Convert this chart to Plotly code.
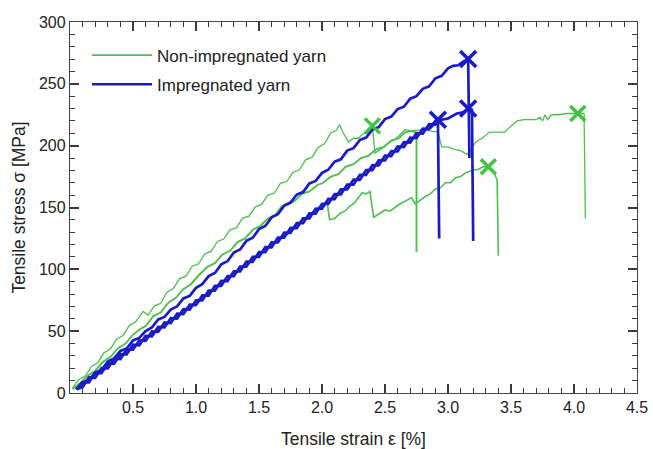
import plotly.graph_objects as go

# ---------------- data ----------------
# Non-impregnated yarn (green) specimens: strain [%], stress [MPa]
g1_x = [0.02, 0.07, 0.12, 0.17, 0.22, 0.27, 0.32, 0.37, 0.42, 0.47, 0.52, 0.55, 0.58, 0.62,
        0.67, 0.72, 0.77, 0.82, 0.87, 0.92, 0.97, 1.02, 1.07, 1.12, 1.17, 1.22, 1.27, 1.32,
        1.37, 1.42, 1.47, 1.52, 1.57, 1.62, 1.67, 1.72, 1.77, 1.82, 1.87, 1.92, 1.97, 2.02,
        2.07, 2.11, 2.14, 2.17, 2.21, 2.25, 2.29, 2.33, 2.37, 2.40, 2.42, 2.48, 2.54, 2.58,
        2.62, 2.66, 2.72, 2.80, 2.86, 2.92, 2.95, 3.00, 3.05, 3.10, 3.15, 3.17, 3.22, 3.27,
        3.33, 3.40, 3.45, 3.50, 3.55, 3.60, 3.65, 3.70, 3.73, 3.75, 3.77, 3.79, 3.82, 3.88,
        3.95, 4.03, 4.08, 4.09]
g1_y = [4, 11, 13.5, 21.5, 24.5, 32.5, 35.5, 43.5, 46.5, 54.5, 57.5, 62, 66, 63,
        70.5, 72.5, 81.5, 84.5, 92.5, 94.5, 102.5, 104.5, 112.5, 114.5, 122.5, 124.5, 132, 133.5,
        141.5, 143, 150.5, 152.5, 160, 161.5, 169.5, 171, 178.5, 180.5, 188.5, 190.5, 198.5, 201.5,
        210.5, 212, 217, 210, 203, 206, 206, 210, 210, 216, 194, 198, 203, 205,
        209, 213, 212, 213, 212, 211, 199, 199, 197, 196, 193, 195, 203, 206,
        211, 211, 211, 216, 220, 221, 221, 221, 223, 220, 225, 221, 225, 225,
        226, 226, 226, 141]

g2_x = [0.02, 0.08, 0.14, 0.20, 0.26, 0.32, 0.38, 0.44, 0.50, 0.56, 0.60, 0.66, 0.72, 0.78,
        0.84, 0.90, 0.96, 1.02, 1.09, 1.15, 1.21, 1.27, 1.33, 1.39, 1.45, 1.51, 1.57, 1.63,
        1.68, 1.72, 1.78, 1.84, 1.90, 1.96, 2.01, 2.07, 2.13, 2.19, 2.25, 2.31, 2.37, 2.43,
        2.49, 2.55, 2.61, 2.66, 2.72, 2.75, 2.75]
g2_y = [3, 8, 14, 18, 25, 29, 36, 40, 47, 52, 54, 62, 65, 73,
        77, 84, 88, 95, 102, 105, 112, 115, 122, 125, 132, 135, 141, 144,
        151, 152, 155, 161, 163, 168, 170, 175, 177, 183, 185, 190, 192, 197,
        199, 204, 206, 211, 212, 210, 114]

g4_x = [0.05, 0.30, 0.60, 1.00, 1.30, 1.60, 1.80, 1.95, 2.00, 2.04, 2.06, 2.10, 2.14, 2.18,
        2.22, 2.26, 2.29, 2.32, 2.35, 2.38, 2.41, 2.46, 2.50, 2.54, 2.58, 2.62, 2.66, 2.71,
        2.74, 2.78, 2.82, 2.86, 2.90, 2.94, 2.98, 3.02, 3.06, 3.10, 3.14, 3.19, 3.24, 3.28,
        3.32, 3.36, 3.39, 3.40]
g4_y = [3, 22, 44, 73, 96, 120, 136, 148, 151, 155, 140, 141, 145, 147,
        151, 154, 158, 162, 161, 163, 142, 145, 148, 147, 150, 153, 155, 158,
        153, 156, 159, 161, 165, 166, 170, 170, 174, 175, 178, 180, 181, 183,
        183, 180, 172, 111]

# Impregnated yarn (blue) specimens
b1_x = [0.05, 0.10, 0.15, 0.20, 0.25, 0.30, 0.35, 0.40, 0.45, 0.50, 0.55, 0.60, 0.65, 0.70,
        0.75, 0.80, 0.85, 0.90, 0.95, 1.00, 1.05, 1.10, 1.15, 1.20, 1.25, 1.30, 1.35, 1.40,
        1.45, 1.50, 1.55, 1.60, 1.65, 1.70, 1.75, 1.80, 1.85, 1.90, 1.95, 2.00, 2.05, 2.10,
        2.15, 2.20, 2.25, 2.30, 2.35, 2.40, 2.45, 2.50, 2.55, 2.60, 2.65, 2.70, 2.75, 2.80,
        2.85, 2.90, 2.95, 3.00, 3.04, 3.08, 3.12, 3.16, 3.17]
b1_y = [3, 8.5, 10.5, 16.5, 18.5, 25.5, 28, 34, 36, 42.5, 44.5, 50, 53, 59.5,
        61.5, 67.5, 70, 76.5, 78.5, 85, 88, 94.5, 97, 104, 106.5, 113.5, 116, 123,
        125.5, 132.5, 135, 142, 144.5, 151.5, 154, 160.5, 162.5, 169.5, 171.5, 178, 180.5, 187,
        189, 196, 198, 204.5, 206.5, 213, 215, 221.5, 223.5, 229.5, 231.5, 238, 240, 246,
        248, 254.5, 256.5, 262.5, 264.5, 265, 268, 270, 190]

b2_x = [0.05, 0.10, 0.15, 0.20, 0.25, 0.30, 0.35, 0.40, 0.45, 0.50, 0.55, 0.60, 0.65, 0.70,
        0.75, 0.80, 0.85, 0.90, 0.95, 1.00, 1.05, 1.10, 1.15, 1.20, 1.25, 1.30, 1.35, 1.40,
        1.45, 1.50, 1.55, 1.60, 1.65, 1.70, 1.75, 1.80, 1.85, 1.90, 1.95, 2.00, 2.05, 2.10,
        2.15, 2.20, 2.25, 2.30, 2.35, 2.40, 2.45, 2.50, 2.55, 2.60, 2.65, 2.70, 2.75, 2.80,
        2.85, 2.90, 2.92, 2.93]
b2_y = [3, 8.8, 8.6, 16.3, 16.1, 23.9, 23.7, 31.4, 31.2, 39, 38.6, 46.2, 45.8, 53.4,
        53, 60.6, 60.2, 67.8, 67.4, 75, 74.9, 82.8, 82.7, 90.6, 90.5, 98.4, 98.3, 106.2,
        106.1, 114, 113.9, 121.8, 121.7, 129.6, 129.5, 137.4, 137.3, 145.2, 145.1, 153, 152.9, 160.8,
        160.7, 168.6, 168.5, 176.4, 176.3, 184.2, 184.1, 192, 191.6, 199.3, 198.9, 206.5, 206.1, 213.8,
        213.4, 220, 221, 125]

b3_x = [0.05, 0.10, 0.15, 0.20, 0.25, 0.30, 0.35, 0.40, 0.45, 0.50, 0.55, 0.60, 0.65, 0.70,
        0.75, 0.80, 0.85, 0.90, 0.95, 1.00, 1.05, 1.10, 1.15, 1.20, 1.25, 1.30, 1.35, 1.40,
        1.45, 1.50, 1.55, 1.60, 1.65, 1.70, 1.75, 1.80, 1.85, 1.90, 1.95, 2.00, 2.05, 2.10,
        2.15, 2.20, 2.25, 2.30, 2.35, 2.40, 2.45, 2.50, 2.55, 2.60, 2.65, 2.70, 2.75, 2.80,
        2.85, 2.90, 2.95, 3.00, 3.07, 3.12, 3.16, 3.19, 3.20]
b3_y = [3, 4.8, 12.6, 12.3, 20.1, 19.9, 27.7, 27.4, 35.2, 35, 42.6, 42.2, 49.8, 49.4,
        57, 56.6, 64.2, 63.8, 71.4, 71, 78.9, 78.8, 86.7, 86.6, 94.5, 94.4, 102.3, 102.2,
        110.1, 110, 117.9, 117.8, 125.7, 125.6, 133.5, 133.4, 141.3, 141.2, 149.1, 149, 156.9, 156.8,
        164.7, 164.6, 172.5, 172.4, 180.3, 180.2, 188.1, 188, 195.6, 195.3, 202.9, 202.5, 210.1, 209.8,
        217.4, 217, 221, 222, 226, 227, 230, 229, 123]

# failure marks (X)
green_fail_x = [2.40, 3.32, 4.03]
green_fail_y = [216, 183, 226]
blue_fail_x = [3.16, 2.92, 3.16]
blue_fail_y = [270, 221, 230]

series_names = ["Non-impregnated yarn", "Impregnated yarn"]

# ---------------- styling ----------------
GREEN = "#4cbf4c"
GREEN_X = "#3fc63f"
BLUE = "#1a1ac8"
FONT = "Liberation Sans, Arial, sans-serif"
TXT = "#222222"
AX = "#444444"
TICK = "#3a3a3a"

fig = go.Figure()

green_sets = [(g4_x, g4_y, 1.6), (g2_x, g2_y, 1.9), (g1_x, g1_y, 1.3)]
for i, (xs, ys, w) in enumerate(green_sets):
    fig.add_trace(go.Scatter(
        x=xs, y=ys, mode="lines", line=dict(color=GREEN, width=w),
        name=series_names[0], legendgroup="g", showlegend=(i == 0)))

blue_sets = [(b3_x, b3_y), (b2_x, b2_y), (b1_x, b1_y)]
for i, (xs, ys) in enumerate(blue_sets):
    fig.add_trace(go.Scatter(
        x=xs, y=ys, mode="lines", line=dict(color=BLUE, width=2.7),
        name=series_names[1], legendgroup="b", showlegend=(i == 0)))

fig.add_trace(go.Scatter(
    x=green_fail_x, y=green_fail_y, mode="markers", showlegend=False,
    marker=dict(symbol="x-thin", size=15, line=dict(color=GREEN_X, width=3.5))))
fig.add_trace(go.Scatter(
    x=blue_fail_x, y=blue_fail_y, mode="markers", showlegend=False,
    marker=dict(symbol="x-thin", size=16, line=dict(color=BLUE, width=3.5))))

axis_common = dict(
    showline=True, linecolor=AX, linewidth=1.3, mirror="ticks",
    ticks="inside", tickcolor=TICK, ticklen=9, tickwidth=1.6,
    showgrid=False, zeroline=False, automargin=False,
    tickfont=dict(family=FONT, size=16, color=TXT),
)

fig.update_xaxes(
    range=[0, 4.5], tickmode="linear", tick0=0, dtick=0.5, tickformat=".1f",
    labelalias={"0.0": " "},
    minor=dict(dtick=0.1, ticks="inside", ticklen=5, tickcolor=TICK, tickwidth=1.3),
    title=dict(text="Tensile strain ε [%]", font=dict(family=FONT, size=17.5, color=TXT), standoff=18),
    **axis_common)
fig.update_yaxes(
    range=[0, 300], tickmode="linear", tick0=0, dtick=50,
    minor=dict(dtick=10, ticks="inside", ticklen=5, tickcolor=TICK, tickwidth=1.3),
    title=dict(text="Tensile stress σ [MPa]", font=dict(family=FONT, size=17.5, color=TXT), standoff=8),
    **axis_common)

fig.update_layout(
    template="simple_white",
    width=653, height=449,
    margin=dict(l=70, r=16, t=22, b=56),
    paper_bgcolor="white", plot_bgcolor="white",
    font=dict(family=FONT, color=TXT),
    legend=dict(x=0.03, y=0.958, xanchor="left", yanchor="top",
                bgcolor="rgba(0,0,0,0)", font=dict(family=FONT, size=17, color=TXT),
                itemwidth=60, tracegroupgap=4),
)

fig.write_html("out.html")
